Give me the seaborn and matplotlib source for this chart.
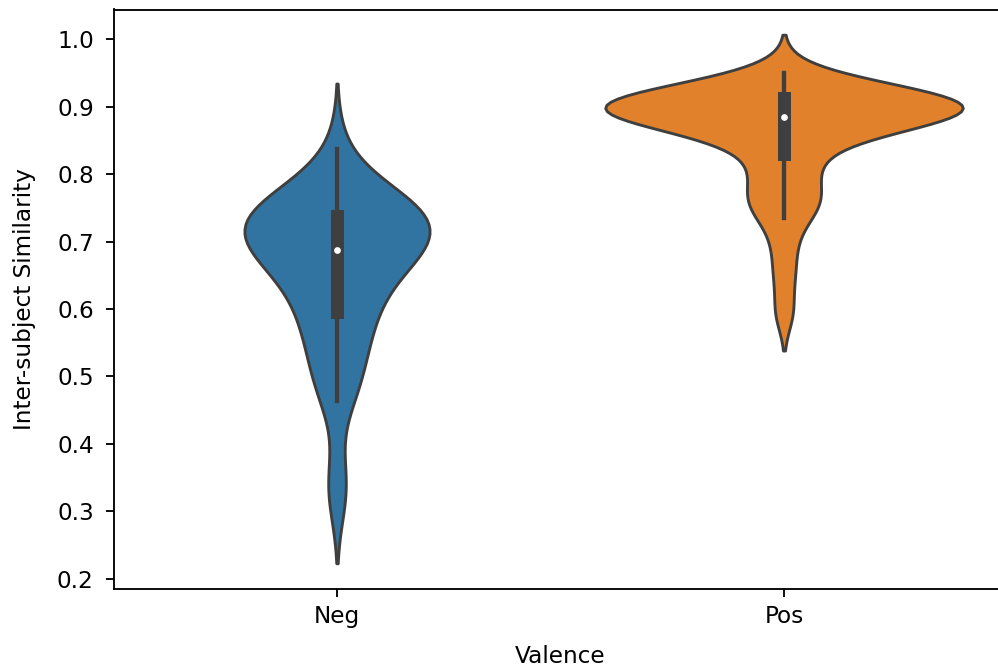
import numpy as np
import pandas as pd
import matplotlib
matplotlib.use("Agg")
import matplotlib.pyplot as plt
import seaborn as sns

# ---- data ----
categories = ["Neg", "Pos"]

neg_similarity = [
    0.320, 0.352,
    0.463, 0.480, 0.500, 0.520, 0.540, 0.558, 0.575, 0.590,
    0.597, 0.610, 0.625, 0.640, 0.652, 0.662, 0.670, 0.676, 0.681, 0.684,
    0.690, 0.696, 0.701, 0.706, 0.711, 0.716, 0.721, 0.726, 0.731, 0.737,
    0.741, 0.743, 0.746, 0.749, 0.752, 0.756, 0.761, 0.768, 0.785, 0.837,
]

pos_similarity = [
    0.595, 0.650, 0.695,
    0.735, 0.748, 0.760, 0.772, 0.786, 0.805, 0.824,
    0.832, 0.850, 0.862, 0.869, 0.874, 0.877, 0.880, 0.882, 0.883, 0.884,
    0.886, 0.888, 0.890, 0.893, 0.896, 0.899, 0.902, 0.905, 0.909, 0.913,
    0.914, 0.914, 0.915, 0.915, 0.916, 0.917, 0.918, 0.920, 0.925, 0.950,
]

yticks = [0.2, 0.3, 0.4, 0.5, 0.6, 0.7, 0.8, 0.9, 1.0]
x_label = "Valence"
y_label = "Inter-subject Similarity"

df = pd.DataFrame({
    x_label: ["Neg"] * len(neg_similarity) + ["Pos"] * len(pos_similarity),
    y_label: neg_similarity + pos_similarity,
})


def robust_bandwidth(kde):
    """Silverman-style robust bandwidth factor (uses min(std, IQR/1.349))."""
    x = np.asarray(kde.dataset).ravel()
    sd = x.std(ddof=1)
    q75, q25 = np.percentile(x, [75, 25])
    return 0.46 * min(sd, (q75 - q25) / 1.349) / sd


DPI = 166.33
W, H = 998, 668
fig = plt.figure(figsize=(W / DPI, H / DPI), dpi=DPI)
left, right, top, bottom = 113.5, 1007.5, 9.5, 588.5
ax = fig.add_axes([left / W, 1 - bottom / H, (right - left) / W, (bottom - top) / H])

sns.violinplot(
    data=df, x=x_label, y=y_label, hue=x_label,
    order=categories, hue_order=categories,
    palette=["#1f77b4", "#ff7f0e"], saturation=0.75,
    bw_method=robust_bandwidth, inner="box", common_norm=True,
    inner_kws=dict(marker="o", markersize=2.4, markeredgewidth=0.5),
    legend=False, ax=ax,
)

ax.set_xlim(-0.5, 1.5)
ax.set_ylim(0.1852, 1.0442)
ax.set_yticks(yticks)
ax.set_yticklabels([f"{t:.1f}" for t in yticks])
ax.tick_params(axis="y", pad=5.0)
ax.tick_params(axis="x", pad=3.5)
ax.set_xlabel(x_label, labelpad=7.5)
ax.set_ylabel(y_label, labelpad=9.0)

fig.savefig("out.png", dpi=DPI)
